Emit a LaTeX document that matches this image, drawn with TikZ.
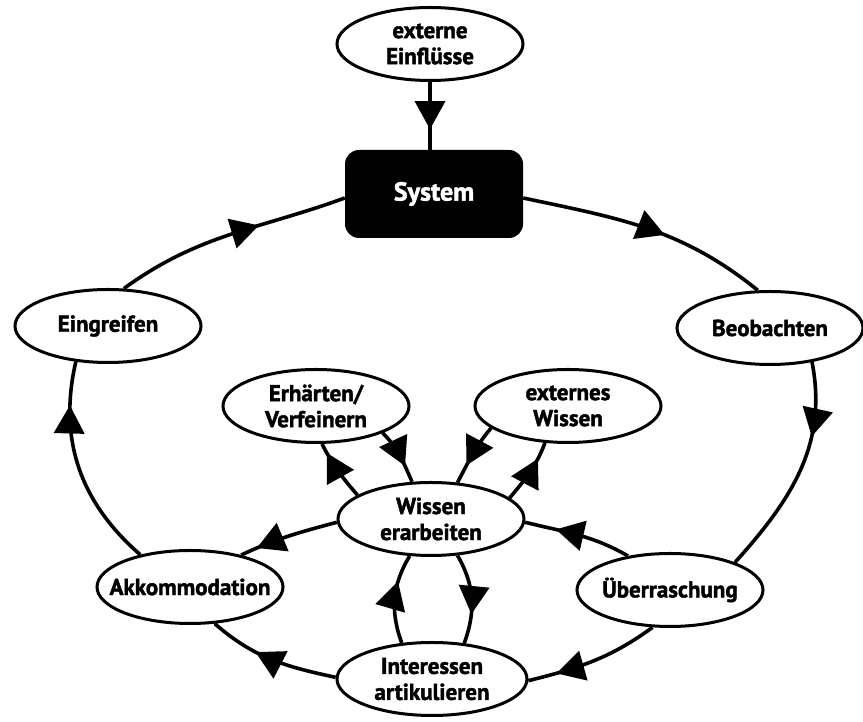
\documentclass[tikz,border=0pt]{standalone}
\usepackage{fontspec}
\setmainfont{PT Sans}[BoldFeatures={FakeBold=1.8}]
\usetikzlibrary{shapes.geometric,decorations.markings}
\begin{document}
\begin{tikzpicture}[x=1pt,y=1pt,
  ell/.style={ellipse,draw,line width=3pt,minimum width=186pt,minimum height=73pt,inner sep=0pt,fill=white},
  lbl/.style={align=center,font=\fontsize{23}{26}\selectfont\bfseries},
  link/.style={line width=3.6pt},
  % filled triangle placed on a connector, tip at the given position
  marr/.style={postaction={decorate},decoration={markings,mark=at position #1 with
    {\fill (1,0) -- (-27,15.5) -- (-27,-15.5) -- cycle;}}},
  marr/.default=0.5]
\useasboundingbox (0,0) rectangle (863,722);

% nodes
\node[ell,label={[lbl]center:externe\\Einflüsse}] (ext) at (430,678) {};
\node[fill=black,rounded corners=14pt,minimum width=178pt,minimum height=88pt,inner sep=0pt,
      text=white,lbl,font=\fontsize{26}{28}\selectfont\bfseries] (sys) at (434,528) {System};
\node[ell,label={[lbl]center:Eingreifen}] (ein) at (108,396) {};
\node[ell,label={[lbl]center:Beobachten}] (beo) at (770,394) {};
\node[ell,label={[lbl]center:Erhärten/\\Verfeinern}] (erh) at (316,316) {};
\node[ell,label={[lbl]center:externes\\Wissen}] (exw) at (568,316) {};
\node[ell,label={[lbl]center:Wissen\\erarbeiten}] (wis) at (431,203) {};
\node[ell,minimum width=190pt,label={[lbl]center:Interessen\\artikulieren}] (int) at (432,43) {};
\node[ell,label={[lbl]center:Akkommodation}] (akk) at (190,135) {};
\node[ell,label={[lbl]center:Überraschung}] (ueb) at (670,132) {};

% outer cycle
\draw[link,marr=0.68] (ext.south) -- (ext.south |- sys.north);
\draw[link,marr=0.57] ([yshift=-4pt]sys.east) to[out=-12,in=141] (beo.108);
\draw[link,marr=0.33] (beo.-39) to[out=-79,in=48] (ueb.23);
\draw[link,marr=0.7] (ueb.141) to[out=150,in=-14] (wis.-2);
\draw[link,marr=0.78] (ueb.-115) to[out=-144,in=14] (int.-1);
\draw[link,marr=0.82] (wis.182) to[out=195,in=25] (akk.32);
\draw[link,marr=0.62] (int.179) to[out=168,in=-41] (akk.-56);
\draw[link,marr=0.79] (akk.147) to[out=139,in=-103] (ein.-132);
\draw[link,marr=0.62] (ein.67) to[out=36,in=200] ([yshift=-4pt]sys.west);

% knowledge exchange
\draw[link,marr=0.82] (wis.162) to[out=131,in=-63] (erh.-81);
\draw[link,marr=0.68] (erh.-22) to[out=-45,in=114] (wis.117);
\draw[link,marr=0.68] (exw.-164) to[out=-130,in=62] (wis.54);
\draw[link,marr=0.72] (wis.15) to[out=50,in=-111] (exw.-122);
\draw[link,marr=0.66] (wis.-54) to[out=-60,in=70] (int.48);
\draw[link,marr=0.68] (int.130) to[out=110,in=-121] (wis.-120);
\end{tikzpicture}
\end{document}
